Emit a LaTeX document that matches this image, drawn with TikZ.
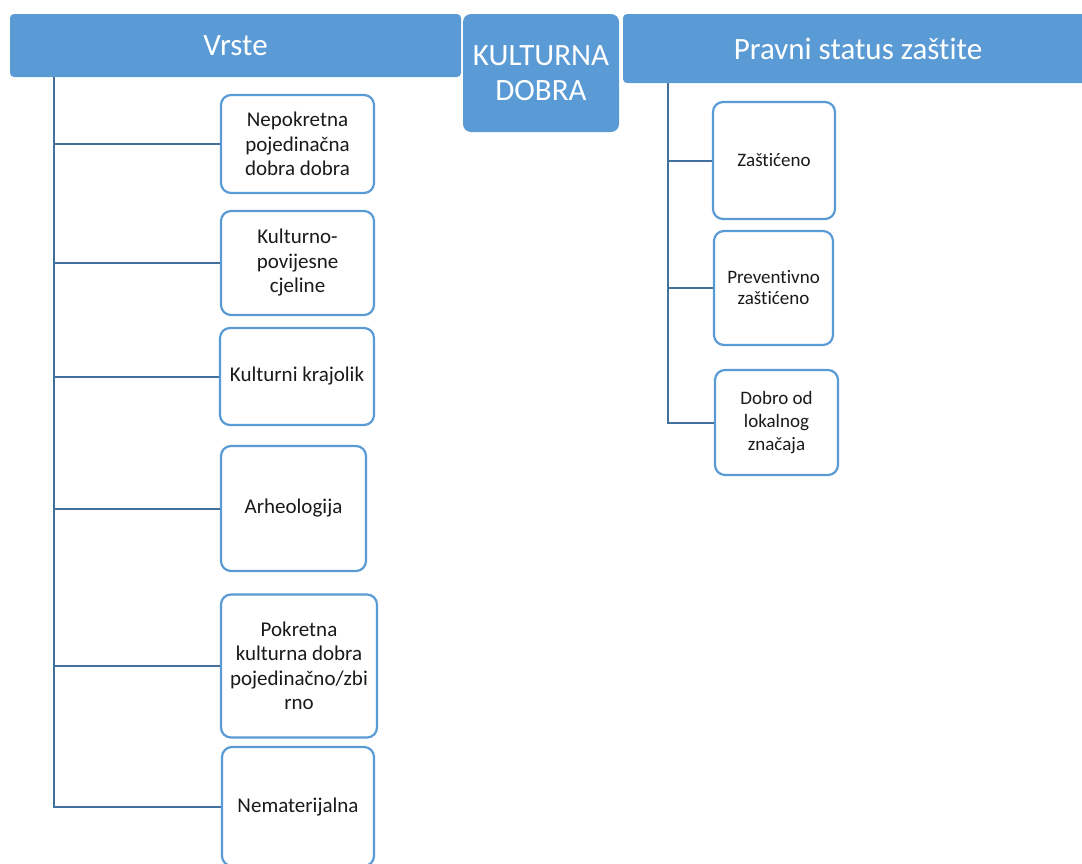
\documentclass[tikz,border=0pt]{standalone}
\usepackage{fontspec}
\setmainfont[Ligatures=NoCommon]{Carlito}
\definecolor{hdr}{HTML}{5B9BD5}
\definecolor{bord}{HTML}{5B9BD5}
\definecolor{conn}{HTML}{41719C}
\definecolor{txt}{HTML}{1A1A1A}
\begin{document}
\begin{tikzpicture}[x=1pt,y=-1pt,
  header/.style={fill=hdr,draw=none,rounded corners=4pt,text=white,inner sep=0pt,align=center,
    font=\fontsize{31}{35}\selectfont},
  itembox/.style={draw=bord,line width=2.2pt,fill=white,rounded corners=10pt,inner sep=0pt,
    align=center,text=txt,font=\fontsize{21}{24.5}\selectfont},
  smallbox/.style={itembox,font=\fontsize{19}{21}\selectfont},
  link/.style={draw=conn,line width=2pt}]
\useasboundingbox (0,0) rectangle (1082,863);
\clip (0,0) rectangle (1082,863);
% headers
\node[header,minimum width=451pt,minimum height=63pt] (vrste) at (235.5,45.5) {Vrste};
\node[header,minimum width=156pt,minimum height=118pt,rounded corners=8pt] (kd) at (541,73) {KULTURNA\\DOBRA};
\node[header,minimum width=470pt,minimum height=69pt] (pravni) at (858,48.5) {Pravni status zaštite};
% left boxes
\node[itembox,minimum width=153pt,minimum height=98pt] (b1) at (297.5,144) {Nepokretna\\pojedinačna\\dobra dobra};
\node[itembox,minimum width=153pt,minimum height=104pt] (b2) at (297.5,263) {Kulturno-\\povijesne\\cjeline};
\node[itembox,minimum width=154pt,minimum height=97pt] (b3) at (297,376.5) {Kulturni krajolik};
\node[itembox,minimum width=145pt,minimum height=125pt] (b4) at (293.5,508.5) {Arheologija};
\node[itembox,minimum width=156pt,minimum height=143pt] (b5) at (299,666) {Pokretna\\kulturna dobra\\pojedinačno/zbi\\rno};
\node[itembox,minimum width=152pt,minimum height=119pt] (b6) at (298,806.5) {Nematerijalna};
% right boxes
\node[smallbox,minimum width=122pt,minimum height=117pt] (r1) at (774,160.5) {Zaštićeno};
\node[smallbox,minimum width=119pt,minimum height=114pt] (r2) at (773.5,288) {Preventivno\\zaštićeno};
\node[smallbox,minimum width=123pt,minimum height=105pt,font=\fontsize{19}{23}\selectfont] (r3) at (776.5,422.5) {Dobro od\\lokalnog\\značaja};
% trunks
\coordinate (lt) at (54,77);
\coordinate (rt) at (668,83);
\draw[link] (lt) |- (b6.west);
\draw[link] (lt |- b1.west) -- (b1.west);
\draw[link] (lt |- b2.west) -- (b2.west);
\draw[link] (lt |- b3.west) -- (b3.west);
\draw[link] (lt |- b4.west) -- (b4.west);
\draw[link] (lt |- b5.west) -- (b5.west);
\draw[link] (rt) |- (r3.west);
\draw[link] (rt |- r1.west) -- (r1.west);
\draw[link] (rt |- r2.west) -- (r2.west);
\end{tikzpicture}
\end{document}
